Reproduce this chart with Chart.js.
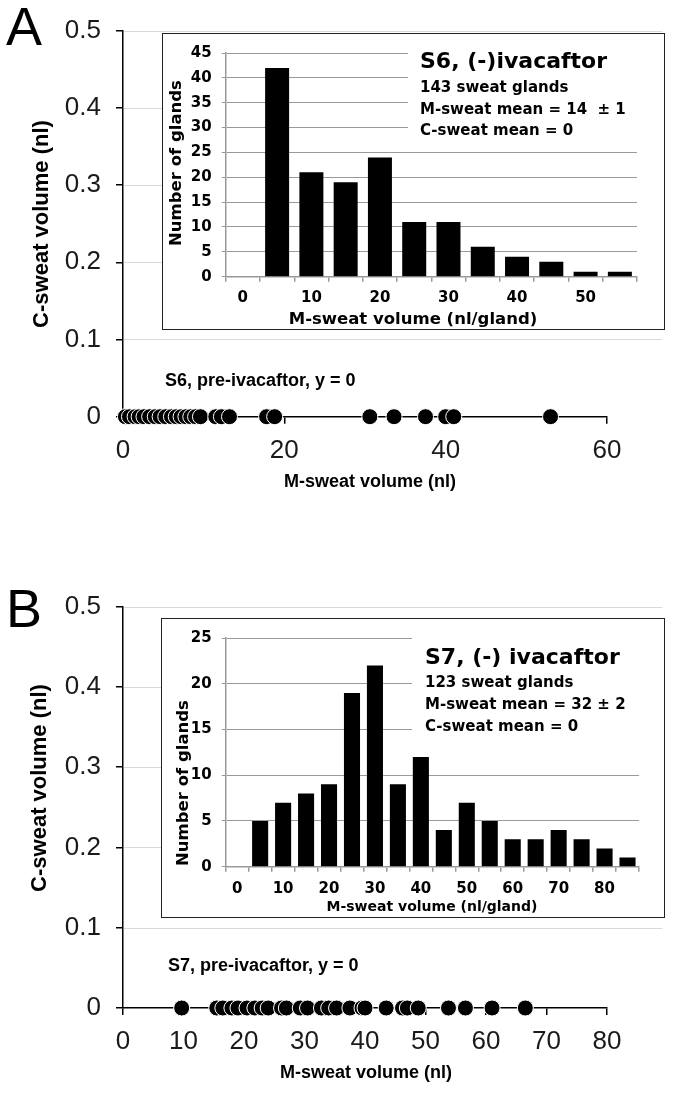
<!DOCTYPE html>
<html><head><meta charset="utf-8">
<script src="https://cdn.jsdelivr.net/npm/chart.js@4.4.1/dist/chart.umd.min.js"></script>
<style>
html,body{margin:0;padding:0;background:#fff;}
#wrap{position:relative;width:683px;height:1093px;overflow:hidden;background:#fff;}
canvas{position:absolute;}
.box{position:absolute;border:1.5px solid #222;box-sizing:border-box;background:#fff;}
</style></head><body>
<div id="wrap">
<canvas id="mainA" width="683" height="520" style="left:0;top:0"></canvas>
<div class="box" style="left:162px;top:33px;width:503px;height:297px"></div>
<canvas id="insetA" width="500" height="294" style="left:163px;top:34px"></canvas>
<canvas id="mainB" width="683" height="553" style="left:0;top:540px"></canvas>
<div class="box" style="left:161px;top:618px;width:504px;height:300px"></div>
<canvas id="insetB" width="501" height="297" style="left:162px;top:619px"></canvas>
</div>
<script>
// ---------- DATA ----------
// Panel A (S6) pre-ivacaftor M-sweat volumes (nl), C-sweat = 0
const s6PreMSweat = [0.3, 0.8, 1.5, 2.0, 2.6, 3.3, 4.0, 4.6, 5.3, 6.0, 6.6, 7.2, 7.8, 8.4, 9.0, 9.6, 11.5, 12.2, 13.2, 17.8, 18.8, 30.6, 33.6, 37.5, 40.0, 41.0, 53.0];
// Panel B (S7) pre-ivacaftor M-sweat volumes (nl), C-sweat = 0
const s7PreMSweat = [9.7, 15.5, 16.5, 18.0, 19.0, 20.5, 21.8, 23.0, 24.0, 26.2, 27.0, 29.3, 30.5, 32.8, 34.0, 35.3, 37.5, 39.5, 40.0, 43.5, 46.2, 47.0, 48.8, 53.8, 56.6, 61.0, 66.5];
// Inset histograms: (-) ivacaftor
const s6Bins = ['0','5','10','15','20','25','30','35','40','45','50','55'];
const s6Counts = [0, 42, 21, 19, 24, 11, 11, 6, 4, 3, 1, 1];
const s7Bins = ['0','5','10','15','20','25','30','35','40','45','50','55','60','65','70','75','80','85'];
const s7Counts = [0, 5, 7, 8, 9, 19, 22, 9, 12, 4, 7, 5, 3, 3, 4, 3, 2, 1];
// Axis settings
const mainYMax = 0.5, mainYStep = 0.1;
const s6XMax = 60, s6XStep = 20;
const s7XMax = 80, s7XStep = 10;
const s6HistYMax = 45, s7HistYMax = 25, histYStep = 5;
const s6Text = ['S6, (-)ivacaftor', '143 sweat glands', 'M-sweat mean = 14  \u00b1 1', 'C-sweat mean = 0'];
const s7Text = ['S7, (-) ivacaftor', '123 sweat glands', 'M-sweat mean = 32 \u00b1 2', 'C-sweat mean = 0'];
const s6Note = 'S6, pre-ivacaftor, y = 0';
const s7Note = 'S7, pre-ivacaftor, y = 0';

// ---------- DRAWING ----------
const SANS = '"Liberation Sans", Arial, sans-serif';
const DJ = '"DejaVu Sans", sans-serif';

function mainChart(id, xs, xMax, xStep, area, t) {
  const cv = document.getElementById(id);
  const W = cv.width, H = cv.height;
  const deco = {
    id: 'deco_' + id,
    beforeDatasetsDraw(chart) {
      const c = chart.ctx, ys = chart.scales.y, ca = chart.chartArea;
      c.save();
      c.strokeStyle = '#d9d9d9'; c.lineWidth = 1;
      ys.ticks.forEach(tk => {
        if (tk.value <= 0) return;
        const y = Math.round(ys.getPixelForValue(tk.value)) + 0.5;
        c.beginPath(); c.moveTo(ca.left + 1, y); c.lineTo(area.gridRight, y); c.stroke();
      });
      c.restore();
    },
    afterDraw(chart) {
      const c = chart.ctx;
      c.save();
      c.fillStyle = '#000';
      c.font = '54px ' + SANS; c.textAlign = 'left'; c.textBaseline = 'alphabetic';
      c.fillText(t.letter, t.letterX, t.letterY);
      c.font = 'bold 22px ' + SANS; c.textAlign = 'center'; c.textBaseline = 'middle';
      c.save(); c.translate(t.yTitleX, t.yTitleY); c.rotate(-Math.PI / 2);
      c.fillText('C-sweat volume (nl)', 0, 0); c.restore();
      c.font = 'bold 18px ' + SANS;
      c.fillText('M-sweat volume (nl)', t.xTitleX, t.xTitleY);
      c.textAlign = 'left';
      c.fillText(t.note, t.noteX, t.noteY);
      c.restore();
    }
  };
  return new Chart(cv.getContext('2d'), {
    type: 'scatter',
    data: { datasets: [{ data: xs.map(x => ({ x: x, y: 0 })), pointRadius: 8, pointBackgroundColor: '#000', pointBorderColor: '#fff', pointBorderWidth: 1, clip: false }] },
    options: {
      responsive: false, animation: false, devicePixelRatio: 1, events: [],
      layout: { autoPadding: false, padding: { left: 0, top: area.top, right: W - area.right, bottom: 0 } },
      plugins: { legend: { display: false }, tooltip: { enabled: false } },
      scales: {
        x: {
          type: 'linear', min: 0, max: xMax,
          ticks: { stepSize: xStep, font: { family: SANS, size: 26 }, color: '#1a1a1a', padding: area.xPad, maxRotation: 0, autoSkip: false },
          grid: { drawOnChartArea: false, drawTicks: true, tickLength: 7, tickColor: '#000', lineWidth: 1.5 },
          border: { color: '#000', width: 1.5 },
          afterFit(s) { s.height = H - area.bottom; }
        },
        y: {
          min: 0, max: mainYMax,
          ticks: { stepSize: mainYStep, font: { family: SANS, size: 26 }, color: '#1a1a1a', padding: 15 },
          grid: { drawOnChartArea: false, drawTicks: true, tickLength: 7, tickColor: '#000', lineWidth: 1.5 },
          border: { color: '#000', width: 1.5 },
          afterFit(s) { s.width = area.left; }
        }
      }
    },
    plugins: [deco]
  });
}

function insetChart(id, labels, counts, yMax, area, t) {
  const cv = document.getElementById(id);
  const W = cv.width, H = cv.height;
  const deco = {
    id: 'deco_' + id,
    beforeDatasetsDraw(chart) {
      const c = chart.ctx, ys = chart.scales.y, ca = chart.chartArea;
      c.save(); c.fillStyle = '#fff';
      const yb = ys.getPixelForValue(area.maskTo);
      c.fillRect(area.maskLeft, ca.top - 3, ca.right - area.maskLeft + 2, yb - ca.top + 3);
      c.restore();
    },
    afterDraw(chart) {
      const c = chart.ctx;
      c.save(); c.fillStyle = '#000'; c.textAlign = 'left'; c.textBaseline = 'alphabetic';
      c.font = 'bold ' + t.titleSize + 'px ' + DJ;
      c.fillText(t.lines[0], t.textX, t.baselines[0]);
      c.font = 'bold 15px ' + DJ;
      for (let i = 1; i < t.lines.length; i++) c.fillText(t.lines[i], t.textX, t.baselines[i]);
      c.textAlign = 'center'; c.textBaseline = 'middle';
      c.font = 'bold 16.5px ' + DJ;
      c.save(); c.translate(t.yTitleX, t.yTitleY); c.rotate(-Math.PI / 2);
      c.fillText('Number of glands', 0, 0); c.restore();
      c.font = 'bold ' + t.xTitleSize + 'px ' + DJ;
      c.fillText('M-sweat volume (nl/gland)', t.xTitleX, t.xTitleY);
      c.restore();
    }
  };
  return new Chart(cv.getContext('2d'), {
    type: 'bar',
    data: { labels: labels, datasets: [{ data: counts, backgroundColor: '#000', barPercentage: 0.7, categoryPercentage: 1.0 }] },
    options: {
      responsive: false, animation: false, devicePixelRatio: 1, events: [],
      layout: { autoPadding: false, padding: { left: 0, top: area.top, right: W - area.right, bottom: 0 } },
      plugins: { legend: { display: false }, tooltip: { enabled: false } },
      scales: {
        x: {
          type: 'category', offset: true,
          ticks: { autoSkip: false, maxRotation: 0, padding: area.xPad, color: '#000',
                   font: { family: DJ, weight: 'bold', size: 15 },
                   callback: function (v, i) { return i % 2 === 0 ? this.getLabelForValue(v) : ''; } },
          grid: { offset: true, drawOnChartArea: false, drawTicks: true, tickLength: 5, tickColor: '#999', lineWidth: 1.5 },
          border: { color: '#999', width: 1.5 },
          afterFit(s) { s.height = H - area.bottom; }
        },
        y: {
          min: 0, max: yMax,
          ticks: { stepSize: histYStep, padding: 10, color: '#000', font: { family: DJ, weight: 'bold', size: 15 } },
          grid: { color: '#9a9a9a', lineWidth: 1, drawTicks: true, tickLength: 4, tickColor: '#999' },
          border: { color: '#999', width: 1.5 },
          afterFit(s) { s.width = area.left; }
        }
      }
    },
    plugins: [deco]
  });
}

mainChart('mainA', s6PreMSweat, s6XMax, s6XStep,
  { left: 123, right: 607, top: 23.3, bottom: 416.7, gridRight: 662, xPad: 12 },
  { letter: 'A', letterX: 6, letterY: 45, yTitleX: 42, yTitleY: 224, xTitleX: 370, xTitleY: 482, note: s6Note, noteX: 165, noteY: 381 });

mainChart('mainB', s7PreMSweat, s7XMax, s7XStep,
  { left: 123, right: 607, top: 66.7, bottom: 468, gridRight: 662, xPad: 11 },
  { letter: 'B', letterX: 6, letterY: 87, yTitleX: 40, yTitleY: 248, xTitleX: 366, xTitleY: 533, note: s7Note, noteX: 168, noteY: 426 });

insetChart('insetA', s6Bins, s6Counts, s6HistYMax,
  { left: 62.7, right: 474, top: 15.3, bottom: 242.7, xPad: 7, maskLeft: 245, maskTo: 27.5 },
  { lines: s6Text, titleSize: 22, textX: 257, baselines: [34, 58, 80, 101], yTitleX: 14, yTitleY: 129, xTitleX: 250, xTitleY: 286, xTitleSize: 16.5 });

insetChart('insetB', s7Bins, s7Counts, s7HistYMax,
  { left: 63.7, right: 477, top: 16, bottom: 247.7, xPad: 8, maskLeft: 250, maskTo: 12.5 },
  { lines: s7Text, titleSize: 22, textX: 263, baselines: [45, 68, 90, 112], yTitleX: 22, yTitleY: 164, xTitleX: 270, xTitleY: 288, xTitleSize: 14 });
</script>
</body></html>
